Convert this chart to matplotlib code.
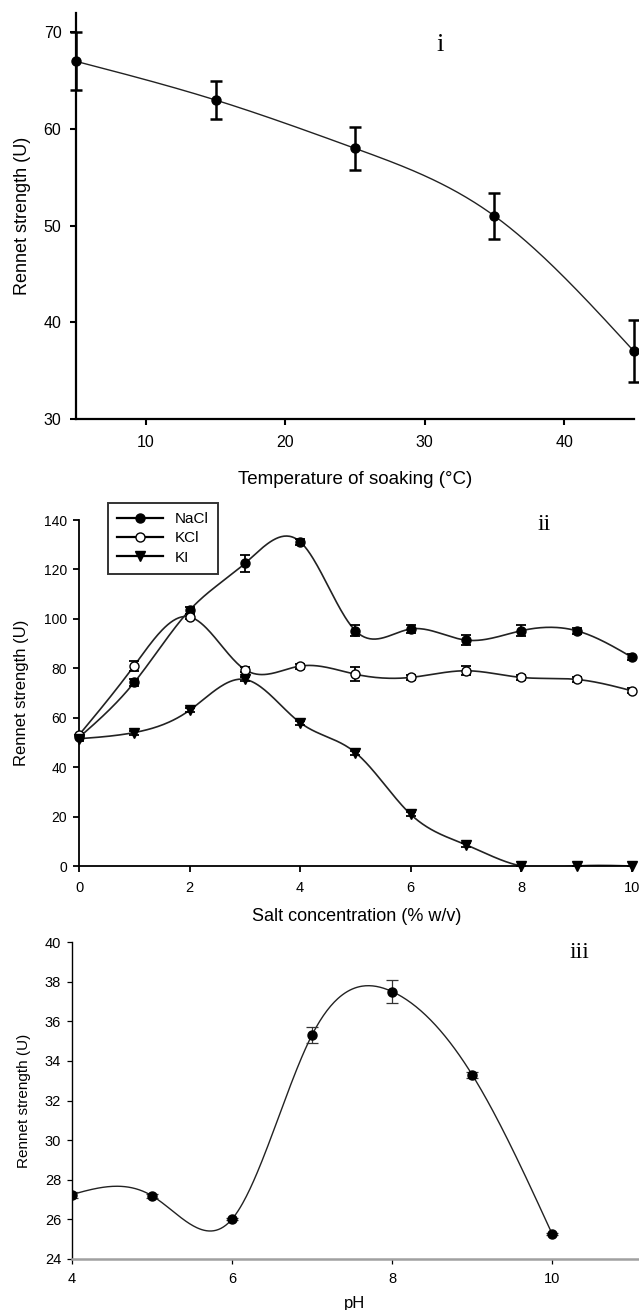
import numpy as np
import matplotlib
matplotlib.use("Agg")
import matplotlib.pyplot as plt

plt.rcParams['font.family'] = ['Liberation Sans', 'DejaVu Sans']

# ---------------- data ----------------
temp_x = [5, 15, 25, 35, 45]
temp_y = [67, 63, 58, 51, 37]
temp_err = [3.0, 2.0, 2.2, 2.4, 3.2]

salt_x = [0, 1, 2, 3, 4, 5, 6, 7, 8, 9, 10]
nacl_y = [52, 74.3, 103.5, 122.4, 131.2, 95.2, 95.9, 91.4, 95.2, 95.2, 84.5]
nacl_err = [1.0, 1.5, 1.5, 3.5, 1.2, 2.2, 1.5, 2.0, 2.2, 1.2, 1.2]
kcl_y = [53, 81.1, 100.8, 79.5, 80.9, 77.6, 76.3, 79.0, 76.3, 75.5, 70.9]
kcl_err = [1.0, 2.0, 1.0, 1.0, 1.0, 2.8, 1.0, 1.8, 1.0, 1.0, 1.0]
ki_y = [51.5, 54.0, 63.0, 75.5, 58.0, 45.9, 20.9, 8.6, 0, 0, 0]
ki_err = [0.8, 0.8, 0.8, 0.8, 0.8, 0.8, 0.8, 0.8, 0, 0, 0]

ph_x = [4, 5, 6, 7, 8, 9, 10]
ph_y = [27.25, 27.2, 26.0, 35.3, 37.5, 33.3, 25.25]
ph_err = [0.15, 0.1, 0.05, 0.4, 0.6, 0.15, 0.05]


def natural_spline(x, y, n=400):
    x = np.asarray(x, float)
    y = np.asarray(y, float)
    k = len(x)
    h = np.diff(x)
    A = np.zeros((k, k))
    b = np.zeros(k)
    A[0, 0] = 1
    A[-1, -1] = 1
    for i in range(1, k - 1):
        A[i, i - 1] = h[i - 1]
        A[i, i] = 2 * (h[i - 1] + h[i])
        A[i, i + 1] = h[i]
        b[i] = 6 * ((y[i + 1] - y[i]) / h[i] - (y[i] - y[i - 1]) / h[i - 1])
    M = np.linalg.solve(A, b)
    xs = np.linspace(x[0], x[-1], n)
    idx = np.clip(np.searchsorted(x, xs) - 1, 0, k - 2)
    x0, x1 = x[idx], x[idx + 1]
    hh = x1 - x0
    t0 = x1 - xs
    t1 = xs - x0
    ys = (M[idx] * t0 ** 3 / (6 * hh) + M[idx + 1] * t1 ** 3 / (6 * hh)
          + (y[idx] / hh - M[idx] * hh / 6) * t0
          + (y[idx + 1] / hh - M[idx + 1] * hh / 6) * t1)
    return xs, ys


W, H = 639, 1310
fig = plt.figure(figsize=(W / 100, H / 100), dpi=100)


def rect(l, r, t, b):
    return [l / W, 1 - b / H, (r - l) / W, (b - t) / H]


# ---------------- panel i ----------------
ax1 = fig.add_axes(rect(76, 634, 13, 419))
xs, ys = natural_spline(temp_x, temp_y)
ax1.plot(xs, ys, color='#222222', lw=1.0)
ax1.errorbar(temp_x, temp_y, yerr=temp_err, fmt='o', color='black', ms=6.5,
             elinewidth=1.8, capsize=4.5, capthick=1.8, clip_on=False, zorder=3)
ax1.set_xlim(5, 45)
ax1.set_ylim(30, 72)
ax1.set_xticks([10, 20, 30, 40])
ax1.set_yticks([30, 40, 50, 60, 70])
for s in ['top', 'right']:
    ax1.spines[s].set_visible(False)
for s in ['left', 'bottom']:
    ax1.spines[s].set_linewidth(1.6)
ax1.tick_params(direction='out', length=4.5, width=1.5, labelsize=11.5, pad=6)
ax1.tick_params(axis='x', pad=7)
ax1.set_xlabel('Temperature of soaking (\u00b0C)', fontsize=13.5, labelpad=15)
ax1.set_ylabel('Rennet strength (U)', fontsize=13, labelpad=9)
ax1.text(440 / W, 1 - 45 / H, 'i', transform=fig.transFigure, fontsize=19,
         family='Liberation Serif', ha='center', va='center')

# ---------------- panel ii ----------------
ax2 = fig.add_axes(rect(79, 634, 520, 866))
for yv, ev, mk, fc, lab in [(nacl_y, nacl_err, 'o', 'black', 'NaCl'),
                            (kcl_y, kcl_err, 'o', 'white', 'KCl'),
                            (ki_y, ki_err, 'v', 'black', 'KI')]:
    xs, ys = natural_spline(salt_x, yv)
    ax2.plot(xs, ys, color='#222222', lw=1.2, zorder=2)
    ax2.errorbar(salt_x, yv, yerr=ev, fmt='none', ecolor='black',
                 elinewidth=1.3, capsize=3.5, capthick=1.3, zorder=3)
    ax2.plot(salt_x, yv, mk, ms=6.5 if mk == 'o' else 7, mfc=fc, mec='black',
             mew=1.0, clip_on=False, zorder=4)
    ax2.plot([], [], '-', marker=mk, color='black', mfc=fc, mec='black',
             ms=6.5, lw=1.6, label=lab)
ax2.set_xlim(0, 10.04)
ax2.set_ylim(0, 140)
ax2.set_xticks([0, 2, 4, 6, 8, 10])
ax2.set_yticks(range(0, 141, 20))
for s in ['top', 'right']:
    ax2.spines[s].set_visible(False)
for s in ['left', 'bottom']:
    ax2.spines[s].set_linewidth(1.3)
ax2.tick_params(direction='out', length=4.5, width=1.3, labelsize=10, pad=4)
ax2.tick_params(axis='x', pad=6, labelsize=10.5)
ax2.set_xlabel('Salt concentration (% w/v)', fontsize=13, labelpad=10)
ax2.set_ylabel('Rennet strength (U)', fontsize=12, labelpad=11)
leg = ax2.legend(loc='upper left', bbox_to_anchor=(0.052, 1.05), fontsize=11,
                 frameon=True, fancybox=False, handlelength=3.0,
                 handletextpad=0.8, labelspacing=0.35, borderpad=0.6,
                 borderaxespad=0.0)
leg.get_frame().set_edgecolor('black')
leg.get_frame().set_linewidth(1.4)
ax2.text(544 / W, 1 - 525 / H, 'ii', transform=fig.transFigure, fontsize=17,
         family='Liberation Serif', ha='center', va='center')

# ---------------- panel iii ----------------
ax3 = fig.add_axes(rect(71.6, 638, 942, 1259))
xs, ys = natural_spline(ph_x, ph_y)
ax3.plot(xs, ys, color='#222222', lw=1.0, zorder=2)
ax3.errorbar(ph_x, ph_y, yerr=ph_err, fmt='none', ecolor='#333333',
             elinewidth=0.9, capsize=4, capthick=0.9, zorder=3)
ax3.plot(ph_x, ph_y, 'o', color='black', ms=6.5, zorder=4)
ax3.set_xlim(4, 11.07)
ax3.set_ylim(24, 40)
ax3.set_xticks([4, 6, 8, 10])
ax3.set_yticks(range(24, 41, 2))
for s in ['top', 'right']:
    ax3.spines[s].set_visible(False)
ax3.spines['left'].set_linewidth(1.0)
ax3.spines['bottom'].set_linewidth(1.8)
ax3.spines['bottom'].set_color('#a0a0a0')
ax3.tick_params(direction='out', length=3.5, width=0.9, labelsize=10.5, pad=4)
ax3.tick_params(axis='x', pad=6)
ax3.set_xlabel('pH', fontsize=12, labelpad=7)
ax3.set_ylabel('Rennet strength (U)', fontsize=11, labelpad=10)
ax3.text(579 / W, 1 - 953 / H, 'iii', transform=fig.transFigure, fontsize=17,
         family='Liberation Serif', ha='center', va='center')

fig.savefig('out.png', dpi=100)
